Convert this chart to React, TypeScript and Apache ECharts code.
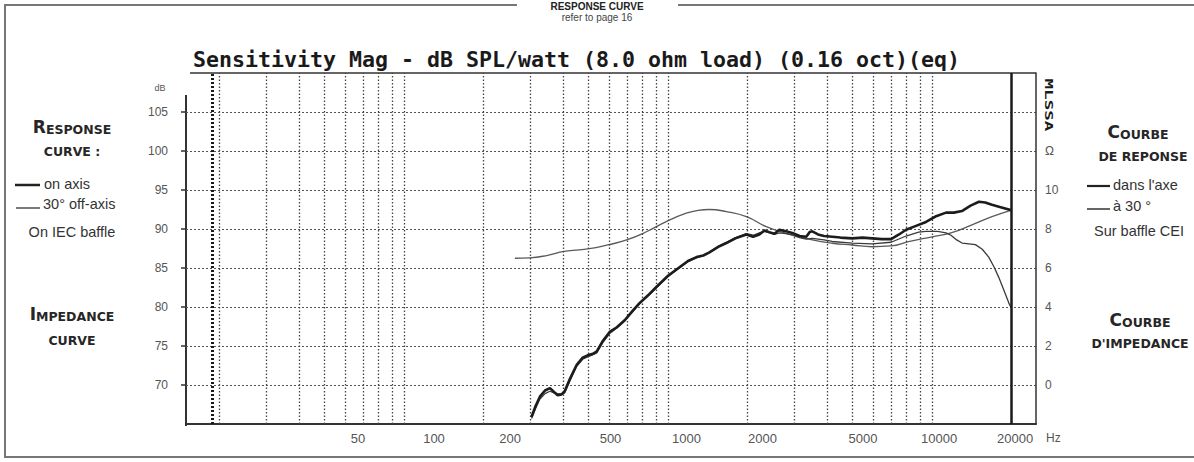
import React, { useEffect, useRef } from 'react';
import * as echarts from 'echarts';

// ---- data (frequency in Hz on the plot's own log grid) ----
const onAxisFreq = [304, 315, 327, 342, 357, 370, 382, 395, 406, 425, 451, 475, 496, 520, 537, 565, 601, 640, 685, 730, 780, 840, 905, 1000, 1105, 1190, 1282, 1360, 1435, 1550, 1664, 1800, 1981, 2100, 2218, 2320, 2420, 2530, 2640, 2800, 2956, 3150, 3340, 3440, 3520, 3700, 3900, 4188, 4500, 4987, 5450, 5929, 6450, 6998, 7500, 7976, 8700, 9488, 10300, 11300, 12100, 12980, 14000, 15060, 15900, 16870, 18200, 19550, 20000];
const onAxisDb = [65.9, 67.3, 68.5, 69.3, 69.6, 69.1, 68.7, 68.8, 69.2, 70.8, 72.6, 73.5, 73.8, 74.0, 74.3, 75.6, 76.8, 77.4, 78.3, 79.4, 80.5, 81.5, 82.6, 84.0, 85.1, 85.9, 86.4, 86.6, 87.0, 87.7, 88.2, 88.8, 89.3, 89.0, 89.3, 89.8, 89.6, 89.4, 89.9, 89.7, 89.5, 89.1, 89.0, 89.6, 89.7, 89.3, 89.1, 89.0, 88.9, 88.8, 88.9, 88.8, 88.7, 88.7, 89.3, 89.9, 90.4, 90.9, 91.6, 92.1, 92.1, 92.3, 93.0, 93.5, 93.4, 93.1, 92.8, 92.5, 92.4];

const offAxisFreq = [304, 315, 327, 342, 357, 370, 382, 395, 406, 425, 451, 475, 496, 520, 537, 565, 601, 640, 685, 730, 780, 840, 905, 1000, 1105, 1190, 1282, 1360, 1435, 1550, 1664, 1800, 1981, 2100, 2218, 2320, 2420, 2530, 2640, 2800, 2956, 3150, 3340, 3520, 3900, 4188, 4987, 5929, 6998, 7976, 8900, 9488, 10500, 11300, 11800, 12400, 13000, 14600, 15500, 16400, 17200, 17900, 18800, 19550, 20000];
const offAxisDb = [65.7, 67.0, 68.2, 68.9, 69.2, 69.0, 68.9, 68.8, 69.0, 70.5, 72.4, 73.3, 73.6, 73.9, 74.1, 75.4, 76.6, 77.3, 78.2, 79.3, 80.4, 81.4, 82.5, 83.9, 85.0, 85.8, 86.3, 86.6, 87.0, 87.8, 88.3, 88.9, 89.4, 89.2, 89.5, 89.7, 89.5, 89.3, 89.5, 89.4, 89.2, 88.9, 88.7, 88.8, 88.6, 88.4, 88.2, 88.1, 88.3, 89.1, 89.6, 89.7, 89.7, 89.5, 89.2, 88.6, 88.2, 88.0, 87.4, 86.4, 85.1, 83.8, 82.0, 80.5, 79.8];

const impFreq = [263, 299, 350, 404, 496, 590, 697, 828, 985, 1172, 1300, 1435, 1664, 1981, 2356, 2801, 3520, 4188, 4987, 5929, 6998, 8150, 10000, 11800, 14100, 16870, 20000];
const impOhm = [6.50, 6.52, 6.65, 6.85, 6.98, 7.18, 7.44, 7.86, 8.38, 8.81, 8.96, 9.0, 8.89, 8.63, 8.12, 7.78, 7.44, 7.27, 7.18, 7.09, 7.13, 7.35, 7.6, 7.8, 8.2, 8.63, 8.97];

// grid lines of the plot (Hz)
const gridFreqs = [20, 30, 40, 50, 60, 70, 80, 90, 100, 200, 300, 400, 500, 600, 700, 800, 900, 1000, 2000, 3000, 4000, 5000, 6000, 7000, 8000, 9000, 10000];
const startMarkerFreq = [18.8];
const endMarkerFreq = [20000];

// tick labels
const xTickLabels = [50, 100, 200, 500, 1000, 2000, 5000, 10000, 20000];
const dbTicks = [70, 75, 80, 85, 90, 95, 100, 105];
const ohmTicks = [0, 2, 4, 6, 8, 10, 12];

const zip = (a: number[], b: number[]) => a.map((v, i) => [v, b[i]]);

const SANS = '"Liberation Sans", Arial, sans-serif';
const HEAD = '"DejaVu Sans", sans-serif';

function smallCaps(big: string, rest: string, x: number, y: number) {
  return {
    type: 'text', x, y, silent: true,
    style: {
      text: (big ? `{a|${big}}` : '') + `{b|${rest}}`,
      align: 'center', verticalAlign: 'middle',
      rich: {
        a: { font: `bold 17px ${HEAD}`, fill: '#262626', verticalAlign: 'bottom', lineHeight: 17 },
        b: { font: `bold 12.5px ${HEAD}`, fill: '#262626', verticalAlign: 'bottom', lineHeight: 15 },
      },
    },
  };
}

function txt(text: string, x: number, y: number, font: string, align = 'left', fill = '#333') {
  return { type: 'text', x, y, silent: true, style: { text, font, fill, align, verticalAlign: 'middle' } };
}

function ln(x1: number, y1: number, x2: number, y2: number, w: number, c = '#333') {
  return { type: 'line', silent: true, shape: { x1, y1, x2, y2 }, style: { stroke: c, lineWidth: w } };
}

export default function App() {
  const ref = useRef<HTMLDivElement>(null);
  useEffect(() => {
    const chart = echarts.init(ref.current!, null, { renderer: 'svg' });
    const option: any = {
      animation: false,
      backgroundColor: '#ffffff',
      grid: { left: 186, right: 158, top: 73, bottom: 38, containLabel: false },
      xAxis: [
        {
          type: 'log', logBase: 10, min: 14.93, max: 24770, position: 'bottom',
          axisLine: { show: true, onZero: false, lineStyle: { color: '#333', width: 2 } },
          axisTick: { show: false }, axisLabel: { show: false }, splitLine: { show: false },
        },
        {
          type: 'value', position: 'bottom',
          min: Math.log10(10.42), max: Math.log10(24210),
          axisLine: { show: false }, axisTick: { show: false }, splitLine: { show: false },
          axisLabel: {
            customValues: xTickLabels.map((v) => Math.log10(v)),
            formatter: (v: number) => String(Math.round(Math.pow(10, v))),
            color: '#555', fontSize: 13, margin: 8, fontFamily: SANS,
          },
        },
      ],
      yAxis: [
        {
          type: 'value', position: 'left', min: 65, max: 110, interval: 5,
          axisLine: { show: false },
          axisTick: { show: true, length: 5, customValues: dbTicks, lineStyle: { color: '#333', width: 1.5 } },
          axisLabel: { customValues: dbTicks, color: '#555', fontSize: 12, margin: 18, fontFamily: SANS },
          splitLine: { show: true, lineStyle: { type: [2, 2], color: '#555', width: 1 } },
        },
        {
          type: 'value', position: 'right', min: -2, max: 16, interval: 2,
          axisLine: { show: true, onZero: false, lineStyle: { color: '#333', width: 1.5 } },
          axisTick: { show: false },
          axisLabel: {
            customValues: ohmTicks,
            formatter: (v: number) => (v === 12 ? 'Ω' : String(v)),
            color: '#555', fontSize: 12, margin: 9, fontFamily: SANS,
          },
          splitLine: { show: false },
        },
      ],
      series: [
        {
          name: 'grid', type: 'line', xAxisIndex: 0, yAxisIndex: 0, data: [], z: 1,
          markLine: {
            silent: true, symbol: ['none', 'none'], label: { show: false }, animation: false,
            lineStyle: { type: [1.5, 2], color: '#444', width: 1.3 },
            emphasis: { disabled: true },
            data: [
              ...gridFreqs.map((f) => ({ xAxis: f })),
              ...startMarkerFreq.map((f) => ({ xAxis: f, lineStyle: { type: [2, 2], color: '#1a1a1a', width: 3 } })),
              ...endMarkerFreq.map((f) => ({ xAxis: f, lineStyle: { type: 'solid', color: '#1a1a1a', width: 2.5 } })),
            ],
          },
        },
        {
          name: 'impedance', type: 'line', xAxisIndex: 0, yAxisIndex: 1, smooth: true,
          showSymbol: false, symbol: 'none', z: 3,
          lineStyle: { color: '#5a5a5a', width: 1.3 },
          data: zip(impFreq, impOhm),
        },
        {
          name: '30° off-axis', type: 'line', xAxisIndex: 0, yAxisIndex: 0,
          showSymbol: false, symbol: 'none', z: 4,
          lineStyle: { color: '#3a3a3a', width: 1.3 },
          data: zip(offAxisFreq, offAxisDb),
        },
        {
          name: 'on axis', type: 'line', xAxisIndex: 0, yAxisIndex: 0,
          showSymbol: false, symbol: 'none', z: 5,
          lineStyle: { color: '#1c1c1c', width: 2.6 },
          data: zip(onAxisFreq, onAxisDb),
        },
      ],
      graphic: [
        // outer frame
        { type: 'polyline', silent: true, shape: { points: [[517, 5], [5, 5], [5, 457], [1194, 457]] }, style: { stroke: '#777', lineWidth: 2, fill: 'none' } },
        ln(678, 5, 1194, 5, 2, '#777'),
        txt('RESPONSE CURVE', 597, 6, `bold 10px ${SANS}`, 'center', '#222'),
        txt('refer to page 16', 597, 17, `10px ${SANS}`, 'center', '#444'),
        // title
        txt('Sensitivity Mag - dB SPL/watt (8.0 ohm load) (0.16 oct)(eq)', 193, 59, `bold 21.6px "DejaVu Sans Mono", monospace`, 'left', '#1a1a1a'),
        ln(190, 73, 1036, 73, 1.5, '#333'),
        // left axis line
        ln(186, 95, 186, 426, 2, '#333'),
        txt('dB', 160, 88, `9px ${SANS}`, 'center', '#555'),
        txt('Hz', 1046, 438, `12px ${SANS}`, 'left', '#555'),
        {
          type: 'text', x: 1049, y: 105, rotation: -Math.PI / 2, scaleX: 1.6, silent: true,
          style: { text: 'MLSSA', font: 'bold 11px "DejaVu Sans Mono", monospace', fill: '#1a1a1a', align: 'center', verticalAlign: 'middle' },
        },
        // left panel
        smallCaps('R', 'ESPONSE', 72, 127),
        smallCaps('', 'CURVE :', 72, 150),
        ln(15, 185, 40, 185, 2.5, '#222'),
        txt('on axis', 44, 184, `14.5px ${SANS}`),
        ln(16, 208, 40, 208, 1.3, '#333'),
        txt('30° off-axis', 43, 204, `14.5px ${SANS}`),
        txt('On IEC baffle', 72, 232, `14.5px ${SANS}`, 'center'),
        smallCaps('I', 'MPEDANCE', 72, 314),
        smallCaps('', 'CURVE', 72, 339),
        // right panel
        smallCaps('C', 'OURBE', 1138, 132),
        smallCaps('', 'DE REPONSE', 1143, 155),
        ln(1087, 186, 1110, 186, 2.2, '#222'),
        txt("dans l'axe", 1113, 185, `14.5px ${SANS}`),
        ln(1087, 209, 1110, 209, 1.5, '#333'),
        txt('à 30 °', 1113, 206, `14.5px ${SANS}`),
        txt('Sur baffle CEI', 1139, 231, `14.5px ${SANS}`, 'center'),
        smallCaps('C', 'OURBE', 1140, 320),
        smallCaps('', "D'IMPEDANCE", 1140, 342),
      ],
    };
    chart.setOption(option);
    return () => chart.dispose();
  }, []);
  return <div ref={ref} style={{ position: 'fixed', left: 0, top: 0, width: 1194, height: 462, background: '#fff' }} />;
}
